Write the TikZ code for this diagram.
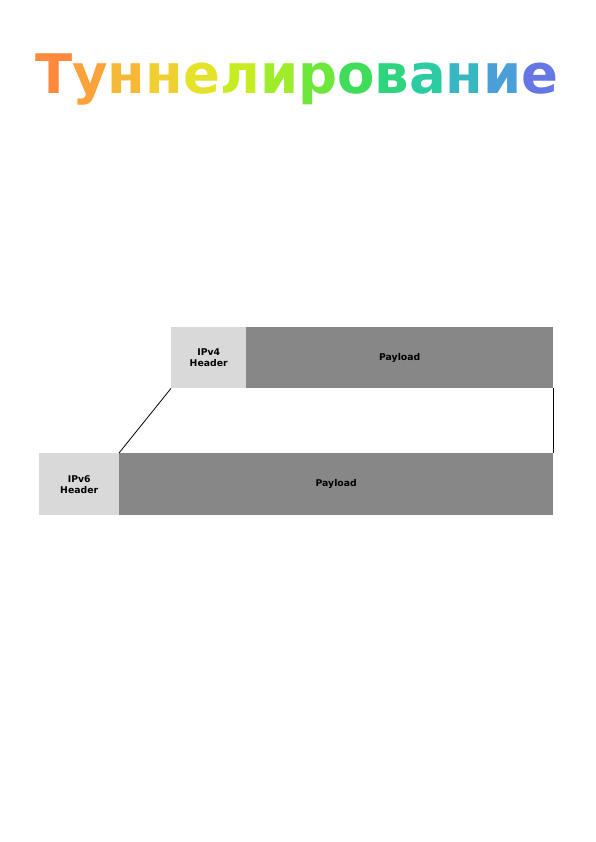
\documentclass[tikz,border=0pt]{standalone}
\usepackage{fontspec}
\setmainfont{DejaVu Sans}
\definecolor{hdr}{HTML}{D9D9D9}
\definecolor{pay}{HTML}{878787}
\definecolor{c1}{HTML}{FF8A3D}
\definecolor{c2}{HTML}{FBA23A}
\definecolor{c3}{HTML}{F6B935}
\definecolor{c4}{HTML}{F0CF30}
\definecolor{c5}{HTML}{E5E22A}
\definecolor{c6}{HTML}{C8EC22}
\definecolor{c7}{HTML}{9FEC2A}
\definecolor{c8}{HTML}{6DE83A}
\definecolor{c9}{HTML}{3FDC5A}
\definecolor{c10}{HTML}{2FD47F}
\definecolor{c11}{HTML}{2CCCA3}
\definecolor{c12}{HTML}{38B7C0}
\definecolor{c13}{HTML}{4A9FD8}
\definecolor{c14}{HTML}{6577E5}
\tikzset{
  field/.style={anchor=north west, inner sep=0pt, font=\bfseries\fontsize{9.3}{11}\selectfont, align=center},
  header/.style={field, fill=hdr},
  payload/.style={field, fill=pay}
}
\begin{document}
\begin{tikzpicture}[x=1pt, y=-1pt]
        \useasboundingbox (0,0) rectangle (595,842);

        % title
        \node (title) at (297,80) {\fontsize{54.5}{58}\selectfont\bfseries
          \textcolor{c1}{Т}\textcolor{c2}{у}\textcolor{c3}{н}\textcolor{c4}{н}\textcolor{c5}{е}\textcolor{c6}{л}\textcolor{c7}{и}\textcolor{c8}{р}\textcolor{c9}{о}\textcolor{c10}{в}\textcolor{c11}{а}\textcolor{c12}{н}\textcolor{c13}{и}\textcolor{c14}{е}};

        % IPv4 packet
        \node[header, minimum width=75pt, minimum height=61pt] (v4head) at (171,327) {IPv4\\Header};
        \node[payload, minimum width=307pt, minimum height=61pt] (v4pay) at (246,327) {Payload};

        % IPv6 packet
        \node[header, minimum width=80pt, minimum height=62pt] (v6head) at (39,453) {IPv6\\Header};
        \node[payload, minimum width=434pt, minimum height=62pt] (v6pay) at (119,453) {Payload};

        \draw[line width=0.8pt] (v4head.south west) -- (v6pay.north west);
        \draw[line width=0.8pt] (v4pay.south east) -- (v6pay.north east);

        \end{tikzpicture}
\end{document}
